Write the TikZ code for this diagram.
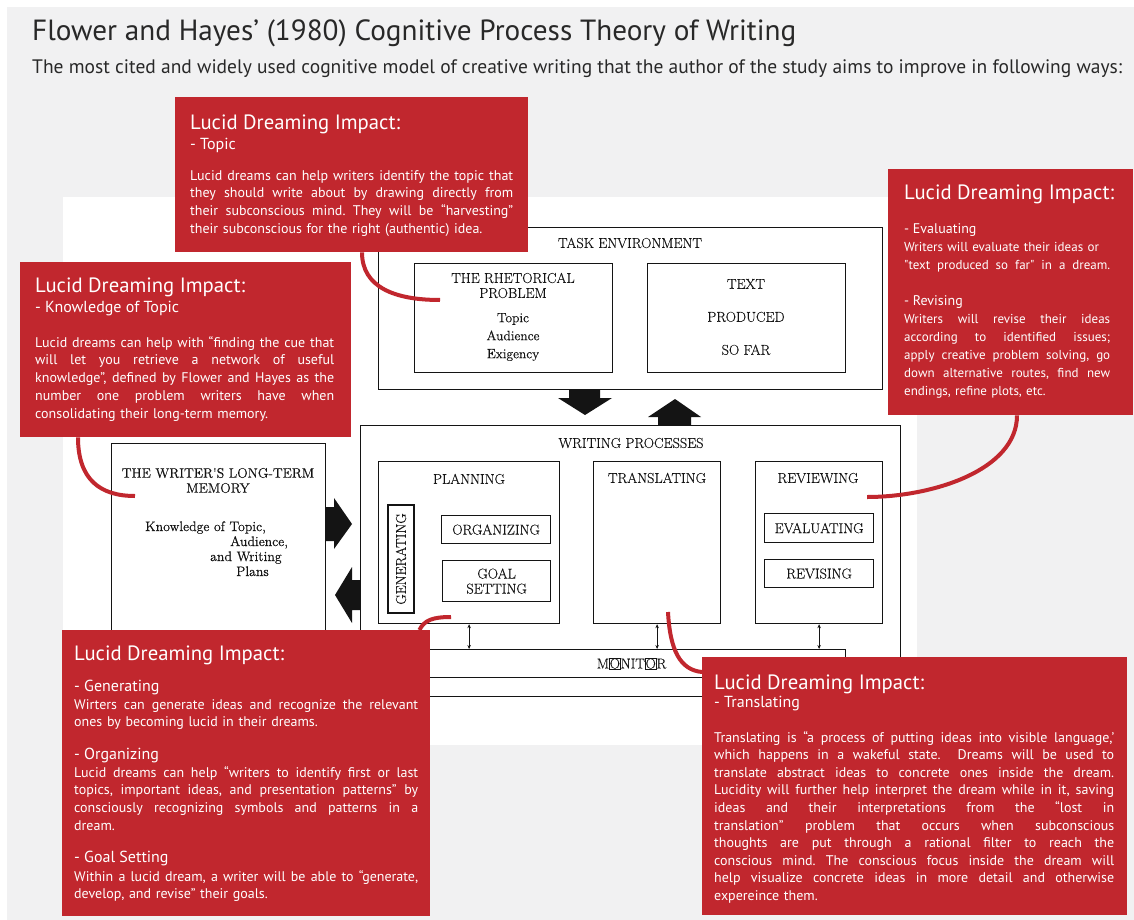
\documentclass[tikz,border=0pt]{standalone}
\usepackage{fontspec}
\usetikzlibrary{arrows.meta}
\newfontfamily\ldsans{PT Sans}
\newfontfamily\scanserif[FakeBold=0.35]{Latin Modern Roman}
\setlength{\parindent}{0pt}
\frenchspacing

\definecolor{ldred}{RGB}{193,39,46}
\definecolor{panel}{RGB}{241,241,242}
\definecolor{ink}{RGB}{40,40,40}
\definecolor{scanink}{RGB}{20,20,20}

% one stretched line of a justified note
\newcommand{\jl}[1]{\makebox[\linewidth][s]{\spaceskip=0pt\xspaceskip=0pt #1}\\}
\newcommand{\ldhead}{\ldsans\fontsize{20.7}{24}\selectfont}
\newcommand{\ldsub}{\ldsans\fontsize{16}{18}\selectfont}
\newcommand{\ldbody}{\ldsans\fontsize{14}{17.8}\selectfont}
\newcommand{\scanfont}{\scanserif\fontsize{14.3}{15}\selectfont}
\newcommand{\boxo}{{\fboxsep=0.3pt\fboxrule=0.4pt\fbox{O}}}

\begin{document}
\begin{tikzpicture}[x=1pt, y=-1pt,
  note/.style={fill=ldred, inner sep=0pt, anchor=north west},
  notetext/.style={text=white, inner sep=0pt, anchor=base west, align=left},
  scanbox/.style={draw=scanink, line width=1.2pt, fill=white, inner sep=0pt, anchor=north west, font=\scanfont, text=scanink},
  scanlabel/.style={inner sep=0pt, font=\scanfont, text=scanink},
  monarrow/.style={draw=scanink, line width=0.9pt, <->, >={Stealth[length=4pt,width=3.5pt]}},
  callout/.style={draw=ldred, line width=4pt}]

\path[fill=white] (0,0) rectangle (1134,920);
\path[fill=panel] (7,7) rectangle (1134,920);
\path[fill=white] (63,197) rectangle (917,745);
\useasboundingbox (0,0) rectangle (1134,920);

\node[anchor=base west, inner sep=0pt, text=ink, font=\ldsans\fontsize{29.2}{32}\selectfont] (title) at (32,41) {Flower and Hayes’ (1980) Cognitive Process Theory of Writing};
\node[anchor=base west, inner sep=0pt, text=ink, font=\ldsans\fontsize{19.5}{22}\selectfont] (subtitle) at (32,74) {The most cited and widely used cognitive model of creative writing that the author of the study aims to improve in following ways:};

\node[scanbox, minimum width=504, minimum height=162] (taskenv) at (378,227) {};
\node[scanbox, minimum width=198, minimum height=109] (rhet) at (414,263) {};
\node[scanbox, minimum width=198, minimum height=109] (textprod) at (647,263) {};
\node[scanlabel] (tasklabel) at (630,243) {TASK ENVIRONMENT};
\node[scanlabel, align=center] (rhetlabel) at (513,285.5) {THE RHETORICAL\\PROBLEM};
\node[scanlabel, align=center, font=\scanserif\fontsize{13.5}{18}\selectfont] (rhetitems) at (513,337) {Topic\\Audience\\Exigency};
\node[scanlabel, align=center, font=\scanserif\fontsize{14.3}{33}\selectfont] (textlabel) at (746,317) {TEXT\\PRODUCED\\SO FAR};

\node[scanbox, minimum width=214, minimum height=200] (memory) at (111,443) {};
\node[scanlabel, align=center, font=\scanserif\fontsize{13.8}{15}\selectfont] (memlabel) at (218,480.5) {THE WRITER'S LONG-TERM\\MEMORY};
\node[scanlabel, anchor=base west, text width=160, align=left, font=\scanserif\fontsize{13.8}{15}\selectfont] (memitems) at (145,531) {Knowledge of Topic,\\\hspace*{85pt}Audience,\\\hspace*{65pt}and Writing\\\hspace*{91pt}Plans};

\node[scanbox, minimum width=540, minimum height=271] (writing) at (360,425) {};
\node[scanlabel] (writelabel) at (631,443) {WRITING PROCESSES};
\node[scanbox, minimum width=181, minimum height=162] (planning) at (378,461) {};
\node[scanbox, minimum width=127, minimum height=162] (translating) at (593,461) {};
\node[scanbox, minimum width=127, minimum height=162] (reviewing) at (755,461) {};
\node[scanlabel] (planlabel) at (469,479) {PLANNING};
\node[scanlabel] (translabel) at (657,478) {TRANSLATING};
\node[scanlabel] (revlabel) at (818,478) {REVIEWING};
\node[scanbox, anchor=center, rotate=90, minimum width=108, minimum height=26] (generating) at (401,559) {GENERATING};
\node[scanbox, minimum width=109, minimum height=28] (organizing) at (441,515) {ORGANIZING};
\node[scanbox, minimum width=108, minimum height=41, align=center] (goal) at (442,560) {GOAL\\SETTING};
\node[scanbox, minimum width=109, minimum height=29] (evaluating) at (764,513) {EVALUATING};
\node[scanbox, minimum width=109, minimum height=28] (revising) at (764,559) {REVISING};
\node[scanbox, minimum width=428, minimum height=28] (monitor) at (417,649) {M\boxo NIT\boxo R};

\draw[monarrow] (planning.south) -- (planning.south |- monitor.north);
\draw[monarrow] (translating.south) -- (translating.south |- monitor.north);
\draw[monarrow] (reviewing.south) -- (reviewing.south |- monitor.north);

\path[fill=scanink] (569,389) -- (600,389) -- (600,398) -- (612,398) -- (585,415) -- (558,398) -- (569,398) -- cycle;
\path[fill=scanink] (658,425) -- (691,425) -- (691,417) -- (701,417) -- (675,399) -- (648,417) -- (658,417) -- cycle;
\path[fill=scanink] (325,507) -- (334,507) -- (334,498) -- (352,524) -- (334,549) -- (334,541) -- (325,541) -- cycle;
\path[fill=scanink] (360,580) -- (352,580) -- (352,567) -- (335,595) -- (352,623) -- (352,610) -- (360,610) -- cycle;

\node[note, minimum width=353, minimum height=155] (topicnote) at (175,97) {};
\node[note, minimum width=331, minimum height=175] (knownote) at (20,262) {};
\node[note, minimum width=245, minimum height=246] (evalnote) at (888,169) {};
\node[note, minimum width=368, minimum height=286] (gennote) at (62,630) {};
\node[note, minimum width=425, minimum height=258] (transnote) at (702,657) {};

\coordinate (rhetend) at (440,300);
\coordinate (memend) at (135,496);
\coordinate (goalend) at (451,617);
\coordinate (transend) at (668,612);
\coordinate (evalend) at (867,497);

\draw[callout] ([shift={(187,0)}]topicnote.south west) .. controls +(0,35) and +(-45,0) .. (rhetend);
\draw[callout] ([shift={(58,0)}]knownote.south west) .. controls +(0,42) and +(-35,0) .. (memend);
\draw[callout] ([shift={(-11,0)}]gennote.north east) .. controls +(5,-10) and +(-18,0) .. (goalend);
\draw[callout] (transend) .. controls +(2,38) and +(-22,-2) .. ([shift={(0,15)}]transnote.north west);
\draw[callout] ([shift={(129,0)}]evalnote.south west) .. controls +(0,55) and +(65,0) .. (evalend);

\node[notetext, font=\ldhead] (topichead) at (190,130) {Lucid Dreaming Impact:};
\node[notetext, font=\ldsub] (topicsub) at (190,150) {- Topic};
\node[notetext, font=\ldbody, text width=323] (topicbody) at (190,180) {\jl{Lucid dreams can help writers identify the topic that}\jl{they should write about by drawing directly from}\jl{their subconscious mind. They will be “harvesting”}their subconscious for the right (authentic) idea.};

\node[notetext, font=\ldhead] (knowhead) at (35,292) {Lucid Dreaming Impact:};
\node[notetext, font=\ldsub] (knowsub) at (35,312) {- Knowledge of Topic};
\node[notetext, font=\ldsans\fontsize{14}{17.75}\selectfont, text width=299] (knowbody) at (35,347) {\jl{Lucid dreams can help with “finding the cue that}\jl{will let you retrieve a network of useful}\jl{knowledge”, defined by Flower and Hayes as the}\jl{number one problem writers have when}consolidating their long-term memory.};

\node[notetext, font=\ldhead] (evalhead) at (904,200) {Lucid Dreaming Impact:};
\node[notetext, font=\ldsans\fontsize{14}{18}\selectfont] (evalsub) at (904,233) {- Evaluating};
\node[notetext, font=\ldsans\fontsize{13}{18}\selectfont, text width=206] (evalbody) at (904,251) {Writers will evaluate their ideas or\\\jl{"text produced so far" in a dream.}};
\node[notetext, font=\ldsans\fontsize{14}{18}\selectfont] (revsub) at (904,305) {- Revising};
\node[notetext, font=\ldsans\fontsize{13}{18}\selectfont, text width=206] (revbody) at (904,323) {\jl{Writers will revise their ideas}\jl{according to identified issues;}\jl{apply creative problem solving, go}\jl{down alternative routes, find new}endings, refine plots, etc.};

\node[notetext, font=\ldhead] (genhead) at (74,660) {Lucid Dreaming Impact:};
\node[notetext, font=\ldsub] (gensub) at (74,691) {- Generating};
\node[notetext, font=\ldbody, text width=344] (genbody) at (74,709) {\jl{Wirters can generate ideas and recognize the relevant}ones by becoming lucid in their dreams.};
\node[notetext, font=\ldsub] (orgsub) at (74,759) {- Organizing};
\node[notetext, font=\ldbody, text width=344] (orgbody) at (74,777) {\jl{Lucid dreams can help “writers to identify first or last}\jl{topics, important ideas, and presentation patterns” by}\jl{consciously recognizing symbols and patterns in a}dream.};
\node[notetext, font=\ldsub] (goalsub) at (74,862) {- Goal Setting};
\node[notetext, font=\ldbody, text width=344] (goalbody) at (74,881) {\jl{Within a lucid dream, a writer will be able to “generate,}develop, and revise” their goals.};

\node[notetext, font=\ldhead] (transhead) at (714,689) {Lucid Dreaming Impact:};
\node[notetext, font=\ldsub] (transsub) at (714,707) {- Translating};
\node[notetext, font=\ldsans\fontsize{14}{17.6}\selectfont, text width=400] (transbody) at (714,742) {\jl{Translating is “a process of putting ideas into visible language,’}\jl{which happens in a wakeful state.\ \ Dreams will be used to}\jl{translate abstract ideas to concrete ones inside the dream.}\jl{Lucidity will further help interpret the dream while in it, saving}\jl{ideas and their interpretations from the “lost in}\jl{translation” problem that occurs when subconscious}\jl{thoughts are put through a rational filter to reach the}\jl{conscious mind. The conscious focus inside the dream will}\jl{help visualize concrete ideas in more detail and otherwise}expereince them.};

\end{tikzpicture}
\end{document}
